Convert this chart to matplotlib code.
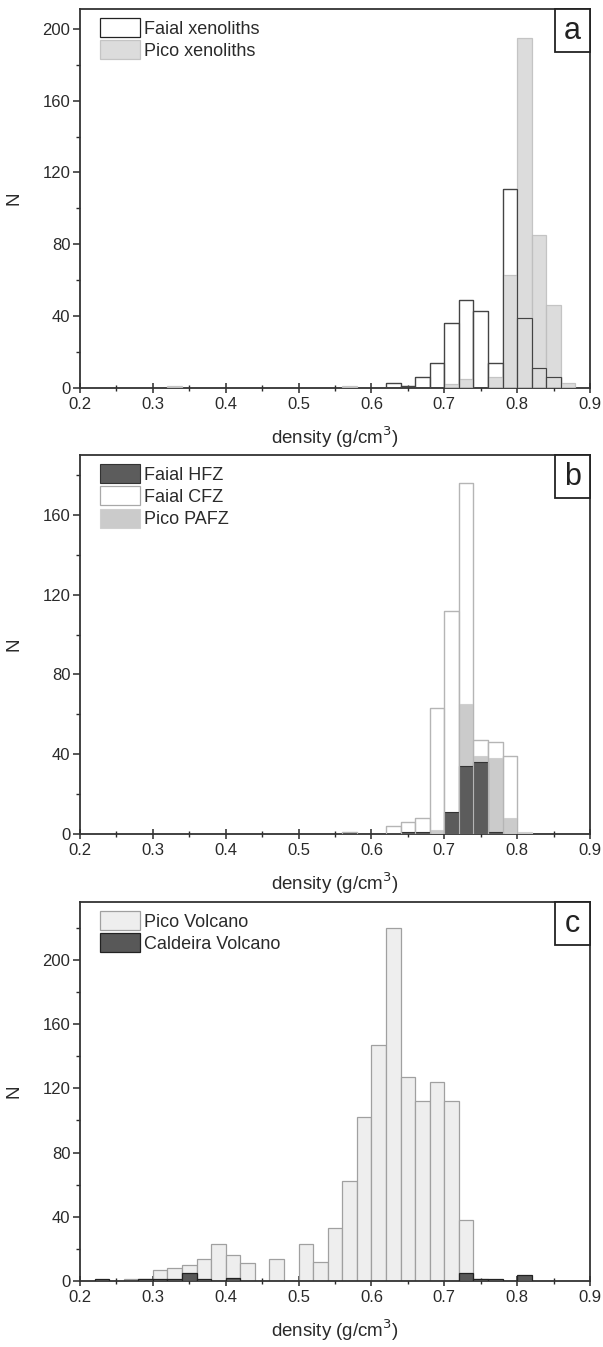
import numpy as np
import matplotlib
matplotlib.use('Agg')
import matplotlib.pyplot as plt
from matplotlib.patches import Rectangle
from matplotlib.ticker import MultipleLocator

plt.rcParams['font.family'] = ['Liberation Sans', 'DejaVu Sans']

# --- data: left bin edges (bin width 0.02) and counts ---
bin_w = 0.02

# panel a
faial_xen_x = [0.62, 0.64, 0.66, 0.68, 0.70, 0.72, 0.74, 0.76, 0.78, 0.80, 0.82, 0.84]
faial_xen_n = [3, 1, 6, 14, 36, 49, 43, 14, 111, 39, 11, 6]
pico_xen_x = [0.32, 0.56, 0.70, 0.72, 0.76, 0.78, 0.80, 0.82, 0.84, 0.86]
pico_xen_n = [1, 1, 2, 5, 6, 63, 195, 85, 46, 3]

# panel b
hfz_x = [0.64, 0.66, 0.70, 0.72, 0.74, 0.76]
hfz_n = [1, 1, 11, 34, 36, 1]
cfz_x = [0.56, 0.62, 0.64, 0.66, 0.68, 0.70, 0.72, 0.74, 0.76, 0.78]
cfz_n = [1, 4, 6, 8, 63, 112, 176, 47, 46, 39]
pafz_x = [0.68, 0.70, 0.72, 0.74, 0.76, 0.78, 0.80]
pafz_n = [2, 3, 65, 39, 38, 8, 1]

# panel c
pico_v_x = [0.26, 0.28, 0.30, 0.32, 0.34, 0.36, 0.38, 0.40, 0.42, 0.46, 0.50, 0.52,
            0.54, 0.56, 0.58, 0.60, 0.62, 0.64, 0.66, 0.68, 0.70, 0.72, 0.74]
pico_v_n = [1, 1, 7, 8, 10, 14, 23, 16, 11, 14, 23, 12,
            33, 62, 102, 147, 220, 127, 112, 124, 112, 38, 1]
cald_x = [0.22, 0.28, 0.30, 0.32, 0.34, 0.36, 0.40, 0.72, 0.74, 0.76, 0.80]
cald_n = [1, 1, 1, 1, 5, 1, 2, 5, 1, 1, 4]

ylims = [211, 190, 236]
panel_letters = ['a', 'b', 'c']

txt_col = '#2a2a2a'

fig = plt.figure(figsize=(6.03, 13.47), dpi=100)
W, H = 603.0, 1347.0
tops = [9, 455, 902]
bottoms = [388, 834, 1281]
axes = []
for t, b in zip(tops, bottoms):
    ax = fig.add_axes([80 / W, 1 - b / H, 510 / W, (b - t) / H])
    axes.append(ax)

# panel a
ax = axes[0]
ax.bar(faial_xen_x, faial_xen_n, width=bin_w, align='edge', color='white',
       edgecolor='#222222', linewidth=0.9, label='Faial xenoliths', zorder=2)
ax.bar(pico_xen_x, pico_xen_n, width=bin_w, align='edge', color='#d6d6d6',
       edgecolor='#bdbdbd', linewidth=0.9, alpha=0.85, label='Pico xenoliths', zorder=3)
ax.bar(faial_xen_x, faial_xen_n, width=bin_w, align='edge', fill=False,
       edgecolor='#444444', linewidth=0.8, zorder=4)

# panel b
ax = axes[1]
ax.bar(cfz_x, cfz_n, width=bin_w, align='edge', color='white',
       edgecolor='#a8a8a8', linewidth=0.9, zorder=2, label='Faial CFZ')
ax.bar(pafz_x, pafz_n, width=bin_w, align='edge', color='#cbcbcb',
       edgecolor='#d0d0d0', linewidth=0.8, zorder=3, label='Pico PAFZ')
ax.bar(hfz_x, hfz_n, width=bin_w, align='edge', color='#5c5c5c',
       edgecolor='#333333', linewidth=0.8, zorder=4, label='Faial HFZ')
ax.bar(cfz_x, cfz_n, width=bin_w, align='edge', fill=False,
       edgecolor='#b5b5b5', linewidth=0.8, zorder=5)
h, l = ax.get_legend_handles_labels()
order = [l.index('Faial HFZ'), l.index('Faial CFZ'), l.index('Pico PAFZ')]

# panel c
ax = axes[2]
ax.bar(pico_v_x, pico_v_n, width=bin_w, align='edge', color='#eeeeee',
       edgecolor='#a0a0a0', linewidth=0.9, zorder=2, label='Pico Volcano')
ax.bar(cald_x, cald_n, width=bin_w, align='edge', color='#585858',
       edgecolor='#222222', linewidth=0.9, zorder=3, label='Caldeira Volcano')

for i, ax in enumerate(axes):
    ax.set_xlim(0.2, 0.9)
    ax.set_ylim(0, ylims[i])
    ax.xaxis.set_major_locator(MultipleLocator(0.1))
    ax.xaxis.set_minor_locator(MultipleLocator(0.05))
    ax.yaxis.set_major_locator(MultipleLocator(40))
    ax.yaxis.set_minor_locator(MultipleLocator(20))
    ax.tick_params(axis='x', which='major', direction='inout', length=7, width=1.1,
                   labelsize=12, colors=txt_col, pad=3)
    ax.tick_params(axis='x', which='minor', direction='inout', length=5, width=1.0, colors=txt_col)
    ax.tick_params(axis='y', which='major', direction='out', length=5, width=1.1,
                   labelsize=12, colors=txt_col, pad=2)
    ax.tick_params(axis='y', which='minor', direction='out', length=3, width=1.0, colors=txt_col)
    ax.xaxis.set_major_formatter(plt.FuncFormatter(lambda v, p: f'{v:.1f}'))
    for s in ax.spines.values():
        s.set_color('#333333')
        s.set_linewidth(1.3)
    ax.set_xlabel('density (g/cm$^3$)', fontsize=13.5, color=txt_col, labelpad=9)
    ax.set_ylabel('N', fontsize=13.5, color=txt_col, labelpad=14)

    handles, labels = ax.get_legend_handles_labels()
    if i == 1:
        handles = [handles[k] for k in order]
        labels = [labels[k] for k in order]
    ax.legend(handles, labels, loc='upper left', frameon=False, fontsize=13,
              handlelength=2.2, handleheight=1.25, handletextpad=0.25,
              labelspacing=0.15, borderaxespad=0, borderpad=0,
              bbox_to_anchor=(20 / 510, 1 - 9 / 379), labelcolor=txt_col)

    bw, bh = 35 / 510, 43 / 379
    ax.add_patch(Rectangle((1 - bw, 1 - bh), bw, bh, transform=ax.transAxes,
                           facecolor='white', edgecolor='#222222', linewidth=1.3,
                           zorder=10, clip_on=False))
    ax.text(1 - bw / 2, 1 - bh / 2, panel_letters[i], transform=ax.transAxes,
            ha='center', va='center', fontsize=22, color='#222222', zorder=11)

fig.savefig('out.png', dpi=100)
